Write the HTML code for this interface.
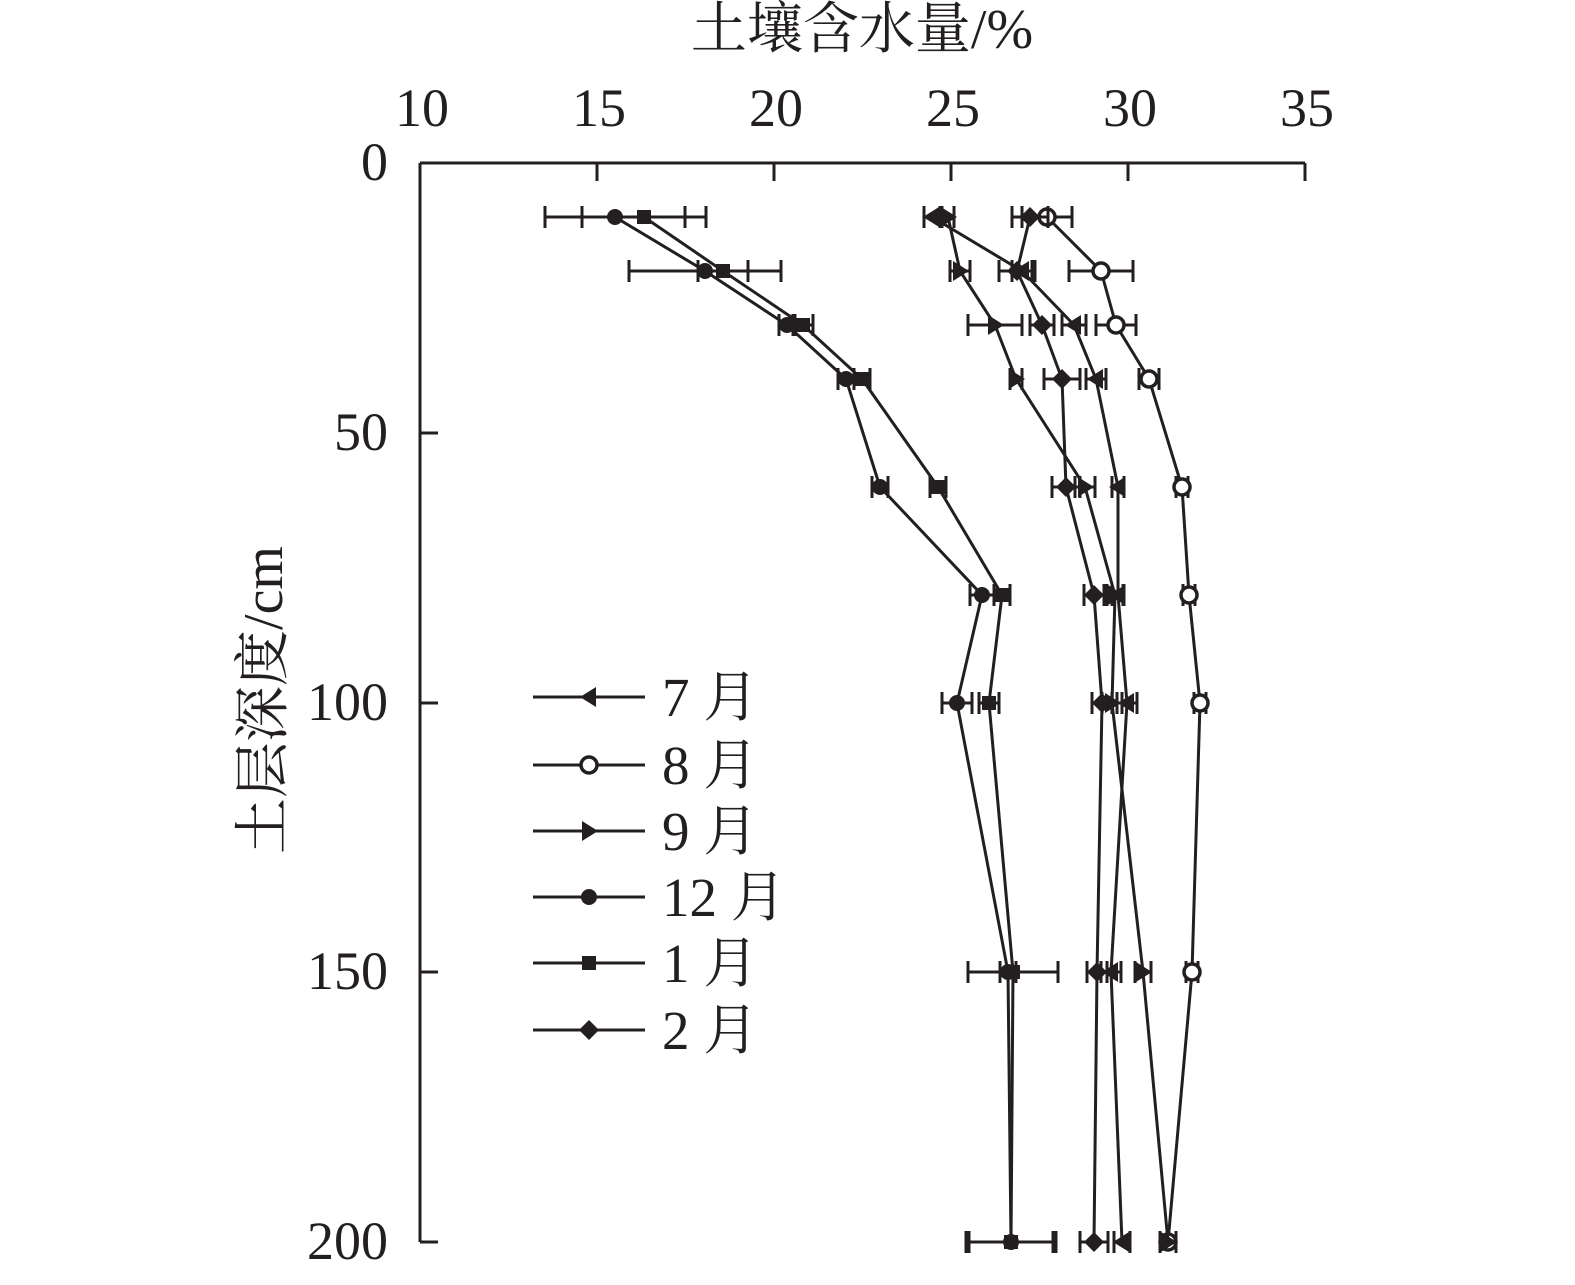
<!DOCTYPE html>
<html><head><meta charset="utf-8"><style>
body{margin:0;background:#fff}
svg text{font-family:"Liberation Serif","Noto Serif CJK SC",serif;fill:#231f20}
</style></head><body>
<svg id="s" width="1575" height="1280" xmlns="http://www.w3.org/2000/svg">
<g stroke="#231f20" stroke-width="3" fill="none">
<line x1="420" y1="163" x2="1305" y2="163"/>
<line x1="420" y1="163" x2="420" y2="1242"/>
<line x1="597" y1="163" x2="597" y2="181"/>
<line x1="774" y1="163" x2="774" y2="181"/>
<line x1="951" y1="163" x2="951" y2="181"/>
<line x1="1128" y1="163" x2="1128" y2="181"/>
<line x1="1305" y1="163" x2="1305" y2="181"/>
<line x1="420" y1="433" x2="438" y2="433"/>
<line x1="420" y1="703" x2="438" y2="703"/>
<line x1="420" y1="972" x2="438" y2="972"/>
<line x1="420" y1="1242" x2="438" y2="1242"/>
</g>
<g font-size="54" text-anchor="middle">
<text x="422" y="126">10</text><text x="599" y="126">15</text><text x="776" y="126">20</text>
<text x="953" y="126">25</text><text x="1130" y="126">30</text><text x="1307" y="126">35</text>
</g>
<g font-size="54" text-anchor="end">
<text x="388" y="180">0</text><text x="388" y="450">50</text><text x="388" y="720">100</text>
<text x="388" y="989">150</text><text x="388" y="1259">200</text>
</g>
<text x="862" y="48" font-size="56" text-anchor="middle">土壤含水量/%</text>
<text transform="translate(282,700) rotate(-90)" font-size="56" text-anchor="middle">土层深度/cm</text>
<g id="d"></g>
</svg>
<script>
var Y=[217,271,325,379,487,595,703,972,1242];
var S=[
{m:'c',x:[615,705,787,846,880,982,957,1008,1011],e:[70,76,8,8,8,12,15,8,45]},
{m:'s',x:[644,723,803,862,938,1002,989,1013,1011],e:[62,25,10,8,8,8,10,45,42]},
{m:'l',x:[932,1022,1074,1096,1118,1118,1127,1111,1122],e:[8,10,12,10,6,6,10,10,8]},
{m:'o',x:[1047,1101,1116,1149,1182,1189,1200,1192,1168],e:[25,32,20,10,6,6,6,6,8]},
{m:'r',x:[948,960,995,1016,1085,1115,1112,1143,1168],e:[6,10,27,6,10,8,10,8,8]},
{m:'d',x:[1030,1017,1042,1062,1066,1094,1102,1097,1094],e:[18,18,12,18,14,10,10,10,14]}];
var g=document.getElementById('d'),h='';
function mk(m,x,y){var c='#231f20';
if(m=='c')return '<circle cx="'+x+'" cy="'+y+'" r="8" fill="'+c+'"/>';
if(m=='o')return '<circle cx="'+x+'" cy="'+y+'" r="8" fill="#fff" stroke="'+c+'" stroke-width="3.5"/>';
if(m=='s')return '<rect x="'+(x-7)+'" y="'+(y-7)+'" width="14" height="14" fill="'+c+'"/>';
if(m=='l')return '<polygon points="'+(x-9)+','+y+' '+(x+7)+','+(y-10)+' '+(x+7)+','+(y+10)+'" fill="'+c+'"/>';
if(m=='r')return '<polygon points="'+(x+9)+','+y+' '+(x-7)+','+(y-10)+' '+(x-7)+','+(y+10)+'" fill="'+c+'"/>';
if(m=='d')return '<polygon points="'+x+','+(y-10)+' '+(x+10)+','+y+' '+x+','+(y+10)+' '+(x-10)+','+y+'" fill="'+c+'"/>';}
S.forEach(function(s){var p=s.x.map(function(x,i){return x+','+Y[i]}).join(' ');
h+='<polyline points="'+p+'" fill="none" stroke="#231f20" stroke-width="3"/>';
s.x.forEach(function(x,i){var y=Y[i],e=s.e[i];
h+='<g stroke="#231f20" stroke-width="3"><line x1="'+(x-e)+'" y1="'+y+'" x2="'+(x+e)+'" y2="'+y+'"/><line x1="'+(x-e)+'" y1="'+(y-11)+'" x2="'+(x-e)+'" y2="'+(y+11)+'"/><line x1="'+(x+e)+'" y1="'+(y-11)+'" x2="'+(x+e)+'" y2="'+(y+11)+'"/></g>';
h+=mk(s.m,x,y);});});
var L=[['l','7 月',697],['o','8 月',765],['r','9 月',831],['c','12 月',897],['s','1 月',963],['d','2 月',1030]];
L.forEach(function(l){h+='<line x1="533" y1="'+l[2]+'" x2="645" y2="'+l[2]+'" stroke="#231f20" stroke-width="3"/>'+mk(l[0],589,l[2])+'<text x="662" y="'+(l[2]+19)+'" font-size="55">'+l[1]+'</text>';});
g.innerHTML=h;
</script>
</body></html>
